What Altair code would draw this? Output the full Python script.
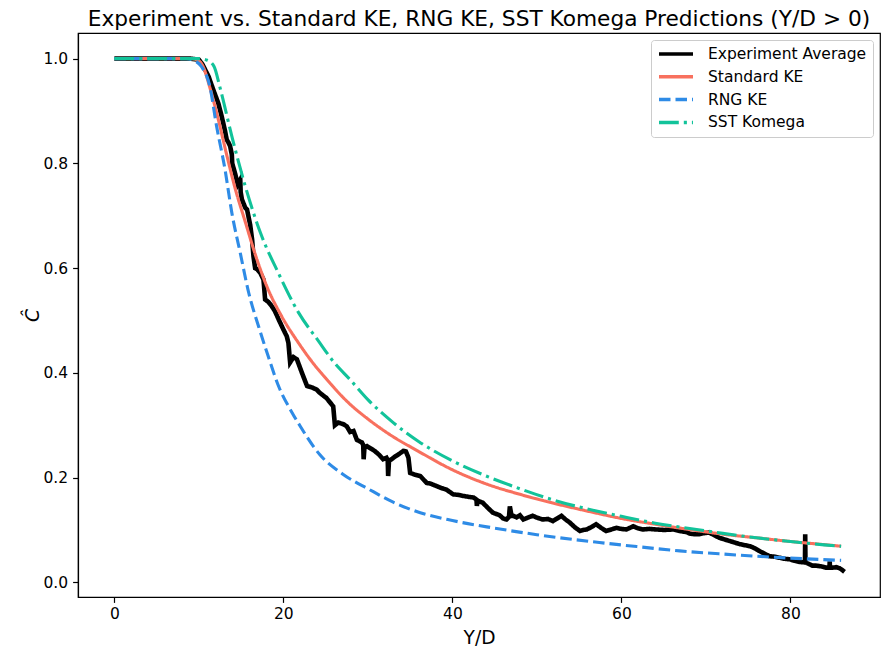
import altair as alt
import pandas as pd

# Measured centreline concentration along the jet (Y/D) and three RANS predictions
exp_x = [0, 5, 9, 10, 10.4, 11.15, 11.7, 12.3, 12.7, 13.1, 13.3, 13.5, 13.7, 13.9, 13.95,
         14.3, 14.6, 14.9, 14.95, 15.1, 15.5, 15.7, 16.07, 16.3, 16.46, 16.66, 16.9, 17.3,
         17.65, 17.84, 18.2, 18.6, 19.0, 19.5, 20.0, 20.4, 20.6, 20.8, 21.2, 21.6, 22.2,
         22.8, 23.4, 23.95, 24.3, 25.1, 25.9, 26.1, 26.5, 27.1, 27.5, 27.9, 28.3, 28.7,
         29.3, 29.45, 29.5, 29.6, 29.9, 30.4, 30.8, 31.3, 31.8, 32.2, 32.35, 32.4, 32.5,
         32.8, 33.2, 33.6, 34.2, 34.5, 34.8, 35.0, 35.5, 36.2, 36.95, 37.5, 38.1, 38.7,
         39.3, 40.1, 40.7, 41.3, 42.0, 42.5, 42.85, 42.9, 43.0, 43.6, 44.2, 44.8, 45.6,
         46.0, 46.4, 46.7, 46.8, 47.0, 47.2, 47.6, 48.0, 48.4, 49.0, 49.5, 50.1, 50.7,
         51.3, 51.9, 52.4, 52.9, 53.4, 53.9, 54.5, 55.1, 55.5, 55.9, 56.5, 57.0, 57.6,
         58.2, 58.8, 59.4, 60.0, 60.6, 61.0, 61.4, 62.0, 62.5, 63.3, 64.1, 65.1, 66.1,
         66.9, 67.7, 68.1, 68.6, 69.2, 69.8, 70.4, 71.0, 71.6, 72.2, 72.8, 73.4, 74.0,
         74.6, 75.2, 75.8, 76.3, 76.9, 77.5, 78.1, 78.7, 79.3, 79.9, 80.5, 81.1, 81.72,
         81.75, 81.78, 82.2, 82.6, 83.0, 83.4, 83.8, 84.2, 84.62, 84.65, 84.68, 85.0,
         85.4, 85.8, 86.1, 86.4]
exp_y = [1.0, 1.0, 1.0, 0.998, 0.99, 0.966, 0.941, 0.915, 0.89, 0.862, 0.845, 0.84, 0.833,
         0.817, 0.80, 0.78, 0.76, 0.769, 0.745, 0.731, 0.715, 0.712, 0.683, 0.655, 0.623,
         0.60, 0.598, 0.59, 0.578, 0.54, 0.536, 0.528, 0.518, 0.50, 0.483, 0.47, 0.457,
         0.42, 0.43, 0.426, 0.40, 0.375, 0.372, 0.368, 0.362, 0.352, 0.336, 0.30, 0.305,
         0.302, 0.298, 0.287, 0.289, 0.272, 0.267, 0.262, 0.235, 0.258, 0.26, 0.255, 0.251,
         0.244, 0.235, 0.238, 0.233, 0.203, 0.232, 0.235, 0.24, 0.244, 0.251, 0.25, 0.238,
         0.209, 0.206, 0.203, 0.19, 0.188, 0.184, 0.18, 0.177, 0.168, 0.167, 0.165, 0.163,
         0.162, 0.158, 0.146, 0.156, 0.152, 0.142, 0.133, 0.128, 0.122, 0.12, 0.125, 0.145,
         0.127, 0.127, 0.124, 0.128, 0.12, 0.124, 0.127, 0.123, 0.12, 0.121, 0.117, 0.122,
         0.127, 0.12, 0.114, 0.105, 0.098, 0.10, 0.101, 0.106, 0.111, 0.104, 0.098, 0.101,
         0.104, 0.102, 0.101, 0.104, 0.107, 0.103, 0.101, 0.102, 0.101, 0.10, 0.101, 0.098,
         0.096, 0.093, 0.092, 0.092, 0.094, 0.095, 0.09, 0.085, 0.082, 0.079, 0.076, 0.073,
         0.071, 0.069, 0.065, 0.06, 0.055, 0.05, 0.049, 0.047, 0.045, 0.044, 0.041, 0.039,
         0.038, 0.092, 0.038, 0.035, 0.032, 0.032, 0.031, 0.03, 0.028, 0.028, 0.04, 0.028,
         0.028, 0.029, 0.027, 0.024, 0.02]

ske_x = [0, 9, 10, 10.5, 11.3, 12.3, 13.3, 14.3, 15.5, 16.7, 18.0, 19.8, 21.8, 23.4, 25.0,
         27.7, 30, 33, 36, 40, 44, 48, 52, 56, 60, 64, 68, 72, 76, 80, 84, 86]
ske_y = [1.0, 1.0, 0.996, 0.985, 0.945, 0.884, 0.816, 0.752, 0.688, 0.625, 0.567, 0.508,
         0.457, 0.421, 0.390, 0.343, 0.312, 0.278, 0.250, 0.215, 0.188, 0.168, 0.151, 0.136,
         0.122, 0.111, 0.101, 0.092, 0.085, 0.078, 0.072, 0.069]

rng_x = [0, 8.5, 9.5, 10.3, 11.3, 12.1, 13.1, 13.9, 14.9, 15.9, 17.1, 18.2, 19.5, 21.0,
         22.0, 24.3, 27.0, 30.2, 33.0, 36.2, 40.0, 44.8, 50.0, 57.4, 62.0, 66.9, 72.0,
         78.0, 86.0]
rng_y = [1.0, 1.0, 0.996, 0.985, 0.947, 0.871, 0.788, 0.706, 0.629, 0.553, 0.487, 0.432,
         0.372, 0.325, 0.298, 0.244, 0.207, 0.177, 0.153, 0.133, 0.118, 0.104, 0.091, 0.076,
         0.068, 0.060, 0.054, 0.048, 0.042]

sst_x = [0, 10, 11, 11.8, 12.5, 13.9, 15.5, 17.3, 19.4, 21.8, 24.1, 26.0, 27.9, 30, 33,
         36, 40, 44, 47.6, 52, 56, 60, 64, 68.9, 72, 76, 80, 84, 86]
sst_y = [1.0, 1.0, 0.997, 0.985, 0.945, 0.852, 0.756, 0.667, 0.591, 0.515, 0.462, 0.420,
         0.387, 0.349, 0.305, 0.269, 0.232, 0.203, 0.181, 0.157, 0.140, 0.126, 0.113, 0.101,
         0.0935, 0.085, 0.078, 0.0715, 0.069]

series_names = ["Experiment Average", "Standard KE", "RNG KE", "SST Komega"]
xs_all = [exp_x, ske_x, rng_x, sst_x]
ys_all = [exp_y, ske_y, rng_y, sst_y]

# Styling for each series
series_colors = ["#000000", "#F8705E", "#2E8BE6", "#12C39A"]
series_dash = [[1, 0], [1, 0], [11.5, 5], [19.8, 5, 3.1, 5]]
series_width = [4.6, 3.1, 3.1, 3.1]
series_interp = ["linear", "monotone", "monotone", "monotone"]

frames = [pd.DataFrame({"x": xs, "y": ys, "series": name})
          for name, xs, ys in zip(series_names, xs_all, ys_all)]
df = pd.concat(frames, ignore_index=True)

FONT = "DejaVu Sans"

base = alt.Chart(df).encode(
    x=alt.X(
        "x:Q",
        scale=alt.Scale(domain=[-4.3, 90.6], nice=False, zero=False),
        axis=alt.Axis(values=[0, 20, 40, 60, 80], format="d", title="Y/D",
                      titleY=46, titleBaseline="alphabetic", labelPadding=4),
    ),
    y=alt.Y(
        "y:Q",
        scale=alt.Scale(domain=[-0.028, 1.049], nice=False, zero=False),
        axis=alt.Axis(values=[0.0, 0.2, 0.4, 0.6, 0.8, 1.0], format=".1f", title="Ĉ",
                      titleX=-40, titleY=282, titleAngle=270, titleAlign="center",
                      titleBaseline="alphabetic", titleFontStyle="italic",
                      labelPadding=5),
    ),
    color=alt.Color("series:N", scale=alt.Scale(domain=series_names, range=series_colors),
                    legend=alt.Legend(title=None)),
    strokeDash=alt.StrokeDash("series:N",
                              scale=alt.Scale(domain=series_names, range=series_dash),
                              legend=alt.Legend(title=None)),
)

# Experiment first, then the three models on top of it
layers = [
    base.transform_filter(alt.datum.series == name).mark_line(
        strokeWidth=w, interpolate=interp, strokeCap="butt"
    )
    for name, w, interp in zip(series_names, series_width, series_interp)
]

chart = (
    alt.layer(*layers)
    .properties(
        width=802,
        height=564,
        autosize=alt.AutoSizeParams(type="none"),
        padding={"left": 78, "top": 33, "right": 1, "bottom": 54},
        title=alt.Title(
            "Experiment vs. Standard KE, RNG KE, SST Komega Predictions (Y/D > 0)",
            font=FONT, fontSize=21.7, fontWeight="normal", color="black",
            anchor="middle", baseline="alphabetic", offset=8, dy=23,
        ),
    )
    .configure_view(stroke="black", strokeWidth=1.2)
    .configure_axis(
        grid=False,
        labelFont=FONT, labelFontSize=15.5, labelColor="black",
        titleFont=FONT, titleFontSize=18.6, titleColor="black", titleFontWeight="normal",
        tickColor="black", tickSize=5.4, tickWidth=1.2,
        domainColor="black", domainWidth=1.2,
    )
    .configure_legend(
        orient="top-right", offset=7, padding=6,
        fillColor="white", strokeColor="#cccccc", strokeWidth=1, cornerRadius=3,
        symbolType="stroke", symbolSize=1156, symbolStrokeWidth=3.5,
        clipHeight=16, rowPadding=5.8,
        labelFont=FONT, labelFontSize=15.5, labelColor="black",
        labelOffset=13, labelLimit=400,
    )
)

chart.save("out.html", embed_options={"renderer": "svg", "actions": False})
